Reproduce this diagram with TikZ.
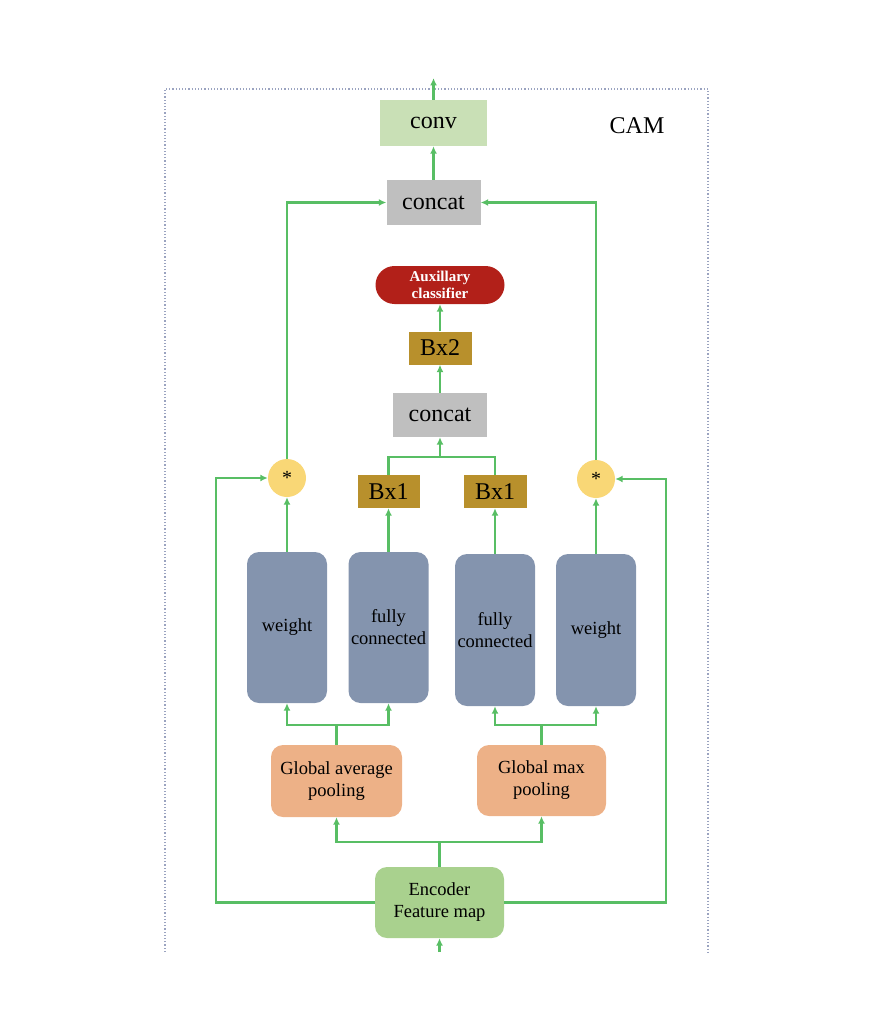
\documentclass[tikz,border=0pt]{standalone}
\usepackage{fontspec}
\setmainfont{Liberation Serif}
\usetikzlibrary{arrows.meta,shapes.misc}
\definecolor{lg}{RGB}{88,190,100}
\definecolor{convc}{HTML}{C9E0B6}
\definecolor{grayc}{HTML}{BFBFBF}
\definecolor{auxc}{HTML}{B22019}
\definecolor{bxc}{HTML}{B8902C}
\definecolor{starc}{HTML}{F9D776}
\definecolor{bluec}{HTML}{8494AE}
\definecolor{poolc}{HTML}{EDB187}
\definecolor{encc}{HTML}{A9D18E}
\definecolor{framec}{HTML}{9AA3C0}
\tikzset{
  box/.style={draw=none, inner sep=0pt, align=center, text=black},
  big/.style={font=\fontsize{24}{28}\selectfont},
  mid/.style={font=\fontsize{18.5}{22}\selectfont},
  conn/.style={draw=lg, line width=2.2pt},
  arr/.style={conn, -{Latex[length=7.5pt,width=7pt]}},
  tall/.style={box, mid, fill=bluec, rounded corners=12pt, minimum width=80pt},
  pool/.style={box, mid, fill=poolc, rounded corners=12pt},
  bx/.style={box, big, fill=bxc, minimum height=33pt},
}
\begin{document}
\begin{tikzpicture}[x=1pt,y=-1pt]
\useasboundingbox (0,0) rectangle (874,1030);
% frame
\draw[framec, dotted, line width=1.2pt] (165,952) -- (165,89) -- (708,89) -- (708,952);
\node[box, big] (cam) at (637,126) {CAM};
% nodes
\node[box, big, fill=convc, minimum width=107pt, minimum height=46pt] (conv) at (433.5,123) {conv};
\node[box, big, fill=grayc, minimum width=94pt, minimum height=45pt] (concat1) at (433.5,202.5) {concat};
\node[box, fill=auxc, text=white, rounded corners=19pt, minimum width=129pt, minimum height=38pt,
      font=\bfseries\fontsize{15}{17}\selectfont] (aux) at (440,285) {Auxillary\\classifier};
\node[bx, minimum width=63pt] (bx2) at (440,348) {Bx2};
\node[box, big, fill=grayc, minimum width=94pt, minimum height=44pt] (concat2) at (440,415) {concat};
\node[bx, minimum width=62pt] (bx1l) at (388.5,491.5) {Bx1};
\node[bx, minimum width=63pt] (bx1r) at (495,491.5) {Bx1};
\node[circle, fill=starc, minimum size=38pt, inner sep=0pt, font=\fontsize{20}{22}\selectfont] (starl) at (287,478) {*};
\node[circle, fill=starc, minimum size=38pt, inner sep=0pt, font=\fontsize{20}{22}\selectfont] (starr) at (596,479) {*};
\node[tall, minimum height=151pt] (wl) at (287,627.5) {weight};
\node[tall, minimum height=151pt] (fcl) at (388.5,627.5) {fully\\connected};
\node[tall, minimum height=152pt] (fcr) at (495,630) {fully\\connected};
\node[tall, minimum height=152pt] (wr) at (596,630) {weight};
\node[pool, minimum width=131pt, minimum height=72pt] (gap) at (336.5,781) {Global average\\pooling};
\node[pool, minimum width=129pt, minimum height=71pt] (gmp) at (541.5,780.5) {Global max\\pooling};
\node[box, mid, fill=encc, rounded corners=12pt, minimum width=129pt, minimum height=71pt] (enc) at (439.5,902.5) {Encoder\\Feature map};
% coordinates
\coordinate (ej) at (439.5,842);
\coordinate (gj) at (336.5,725);
\coordinate (mj) at (541.5,725);
\coordinate (bj) at (440,457);
\coordinate (lb) at (216,902.5);
\coordinate (rb) at (666,902.5);
\coordinate (inp) at (439.5,952);
\coordinate (outp) at (433.5,78);
% connectors
\draw[arr] (inp) -- (enc.south);
\draw[conn] (enc.north) -- (ej);
\draw[arr] (ej) -| (gap.south);
\draw[arr] (ej) -| (gmp.south);
\draw[conn] (gap.north) -- (gj);
\draw[arr] (gj) -| (wl.south);
\draw[arr] (gj) -| (fcl.south);
\draw[conn] (gmp.north) -- (mj);
\draw[arr] (mj) -| (fcr.south);
\draw[arr] (mj) -| (wr.south);
\draw[arr] (wl.north) -- (starl.south);
\draw[arr] (wr.north) -- (starr.south);
\draw[arr] (fcl.north) -- (bx1l.south);
\draw[arr] (fcr.north) -- (bx1r.south);
\draw[conn] (bx1l.north) |- (bj);
\draw[conn] (bx1r.north) |- (bj);
\draw[arr] (bj) -- (concat2.south);
\draw[arr] (concat2.north) -- (bx2.south);
\draw[arr] (bx2.north) -- (aux.south);
\draw[arr] (starl.north) |- (concat1.west);
\draw[arr] (starr.north) |- (concat1.east);
\draw[arr] (concat1.north) -- (conv.south);
\draw[arr] (conv.north) -- (outp);
\draw[arr] (enc.west) -- (lb) |- (starl.west);
\draw[arr] (enc.east) -- (rb) |- (starr.east);
\end{tikzpicture}
\end{document}
